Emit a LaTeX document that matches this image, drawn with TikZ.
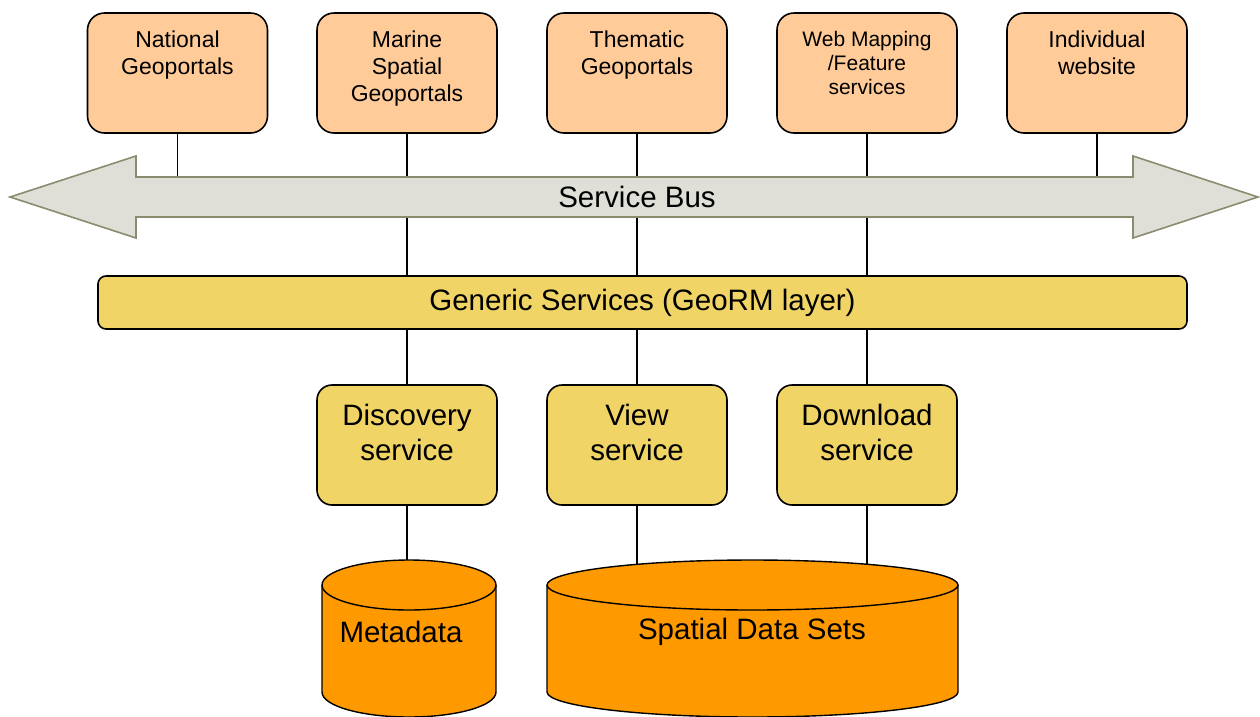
\documentclass[tikz,border=0pt]{standalone}
\usepackage{fontspec}
\setmainfont{Liberation Sans}
\usetikzlibrary{backgrounds}
\definecolor{peach}{HTML}{FFCC99}
\definecolor{svcyellow}{HTML}{F0D466}
\definecolor{dataorange}{HTML}{FF9900}
\definecolor{busfill}{HTML}{DFDFD8}
\definecolor{busline}{HTML}{8B8B6E}
\begin{document}
\begin{tikzpicture}[x=1pt,y=-1pt,
  topbox/.style={draw=black, line width=1.6pt, fill=peach, rounded corners=17pt,
    inner xsep=6pt, inner ysep=18pt, font=\fontsize{23}{27}\selectfont},
  svcbox/.style={draw=black, line width=1.6pt, fill=svcyellow, rounded corners=15pt,
    inner xsep=6pt, inner ysep=19pt, font=\fontsize{29.5}{35}\selectfont},
  layerbar/.style={draw=black, line width=1.6pt, fill=svcyellow, rounded corners=8pt,
    minimum width=1089pt, minimum height=53pt, inner sep=0pt,
    font=\fontsize{29.5}{33}\selectfont},
  link/.style={draw=black, line width=1.4pt},
  cyl/.style={fill=dataorange, draw=black, line width=1.4pt},
  cyltext/.style={font=\fontsize{29.5}{33}\selectfont, inner sep=0pt}
]
\useasboundingbox (0,0) rectangle (1260,716);
\clip (0,0) rectangle (1260,716);

% client applications
\node[topbox] (nat) at (177.5,73) {\parbox[c][84pt][t]{168pt}{\centering National\\Geoportals}};
\node[topbox] (mar) at (407,73) {\parbox[c][84pt][t]{168pt}{\centering Marine\\Spatial\\Geoportals}};
\node[topbox] (the) at (637,73) {\parbox[c][84pt][t]{168pt}{\centering Thematic\\Geoportals}};
\node[topbox, font=\fontsize{21}{24}\selectfont] (web) at (867,73) {\parbox[c][84pt][t]{168pt}{\centering Web Mapping\\/Feature\\services}};
\node[topbox] (ind) at (1097,73) {\parbox[c][84pt][t]{168pt}{\centering Individual\\website}};

% generic layer
\node[layerbar] (gen) at (642.5,302.5) {Generic Services (GeoRM layer)};

% network services
\node[svcbox] (dis) at (407,445) {\parbox[c][82pt][t]{168pt}{\centering Discovery\\service}};
\node[svcbox] (vie) at (637,445) {\parbox[c][82pt][t]{168pt}{\centering View\\service}};
\node[svcbox] (dow) at (867,445) {\parbox[c][82pt][t]{168pt}{\centering Download\\service}};

% data stores
\path[fill=dataorange] (322,585) rectangle (496,692);
\path[fill=dataorange] (322,692) arc[start angle=180, end angle=0, x radius=87, y radius=25];
\draw[line width=1.4pt] (322,585) -- (322,692) arc[start angle=180, end angle=0, x radius=87, y radius=25] -- (496,585);
\filldraw[cyl] (409,585) ellipse [x radius=87, y radius=25];
\node[cyltext] (meta) at (401,632) {Metadata};

\path[fill=dataorange] (547,585) rectangle (958,692);
\path[fill=dataorange] (547,692) arc[start angle=180, end angle=0, x radius=205.5, y radius=25];
\draw[line width=1.4pt] (547,585) -- (547,692) arc[start angle=180, end angle=0, x radius=205.5, y radius=25] -- (958,585);
\filldraw[cyl] (752.5,585) ellipse [x radius=205.5, y radius=25];
\node[cyltext] (sds) at (752,632) {Spatial Data Sets};

\coordinate (busTop) at (0,177);
\coordinate (mdTop) at (407,560.5);
\coordinate (sdsA) at (637,564.5);
\coordinate (sdsB) at (867,564.5);

% connectors
\begin{pgfonlayer}{background}
  \draw[link] (nat.south) -- (nat.south |- busTop);
  \draw[link] (ind.south) -- (ind.south |- busTop);
  \draw[link] (mar.south) -- (mar.south |- gen.north);
  \draw[link] (the.south) -- (the.south |- gen.north);
  \draw[link] (web.south) -- (web.south |- gen.north);
  \draw[link] (dis.north |- gen.south) -- (dis.north);
  \draw[link] (vie.north |- gen.south) -- (vie.north);
  \draw[link] (dow.north |- gen.south) -- (dow.north);
  \draw[link] (dis.south) -- (mdTop);
  \draw[link] (vie.south) -- (sdsA);
  \draw[link] (dow.south) -- (sdsB);
\end{pgfonlayer}

% service bus
\path[fill=busfill, draw=busline, line width=1.6pt, line join=miter]
  (10,197) -- (136,156) -- (136,177) -- (1133,177) -- (1133,156) -- (1258,197)
  -- (1133,238) -- (1133,217) -- (136,217) -- (136,238) -- cycle;
\node[font=\fontsize{29.5}{33}\selectfont, inner sep=0pt] (bus) at (637,197) {Service Bus};
\end{tikzpicture}
\end{document}
